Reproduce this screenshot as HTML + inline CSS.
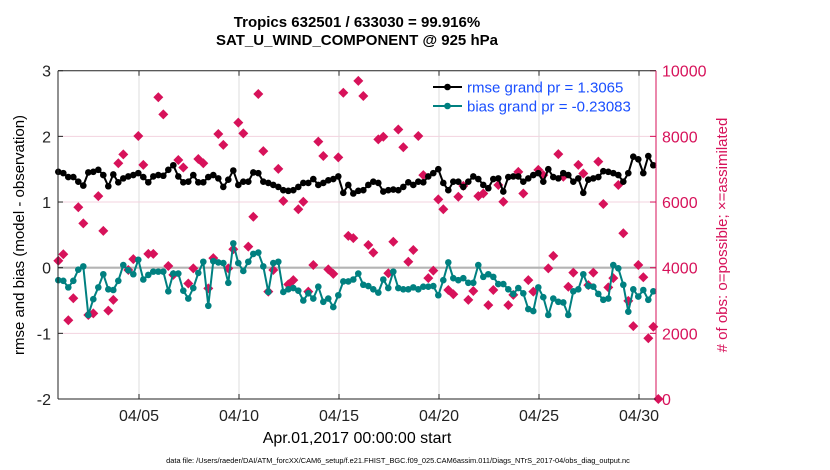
<!DOCTYPE html>
<html><head><meta charset="utf-8"><style>
html,body{margin:0;padding:0;background:#fff;}
svg{display:block;font-family:"Liberation Sans",Arial,sans-serif;}
</style></head><body>
<svg id="chart" width="830" height="470" viewBox="0 0 830 470">
<g id="grid"></g>
<g id="series"></g>
<g id="axes"></g>
<text x="357" y="27" text-anchor="middle" font-size="15" font-weight="bold">Tropics 632501 / 633030 = 99.916%</text>
<text x="357" y="45" text-anchor="middle" font-size="15" font-weight="bold">SAT_U_WIND_COMPONENT @ 925 hPa</text>
<text transform="translate(24,235) rotate(-90)" text-anchor="middle" font-size="15">rmse and bias (model - observation)</text>
<text transform="translate(727,235) rotate(-90)" text-anchor="middle" font-size="15" fill="#d7125a"># of obs: o=possible; ×=assimilated</text>
<text x="357" y="443" text-anchor="middle" font-size="16">Apr.01,2017 00:00:00 start</text>
<text x="398" y="463" text-anchor="middle" font-size="7.4">data file: /Users/raeder/DAI/ATM_forcXX/CAM6_setup/f.e21.FHIST_BGC.f09_025.CAM6assim.011/Diags_NTrS_2017-04/obs_diag_output.nc</text>
<g>
<g>
<line x1="433" y1="87" x2="462" y2="87" stroke="#000" stroke-width="2"/>
<circle cx="447.5" cy="87" r="3.3" fill="#000"/>
<text x="467" y="92.5" font-size="15" fill="#1a4fff">rmse grand pr = 1.3065</text>
</g>
<g>
<line x1="433" y1="106" x2="462" y2="106" stroke="#008080" stroke-width="2"/>
<circle cx="447.5" cy="106" r="3.3" fill="#008080"/>
<text x="467" y="111.5" font-size="15" fill="#1a4fff">bias grand pr = -0.23083</text>
</g>
</g>
</svg>
<script>
const xTickDays = [4, 9, 14, 19, 24, 29];
const xTickLabels = ["04/05", "04/10", "04/15", "04/20", "04/25", "04/30"];
const yTicks = [-2, -1, 0, 1, 2, 3];
const y2Ticks = [0, 2000, 4000, 6000, 8000, 10000];
const rmse = [1.46,1.44,1.38,1.38,1.31,1.25,1.45,1.46,1.49,1.41,1.24,1.42,1.30,1.36,1.39,1.41,1.44,1.38,1.30,1.39,1.41,1.40,1.49,1.56,1.39,1.30,1.31,1.41,1.30,1.30,1.38,1.41,1.36,1.23,1.34,1.48,1.26,1.31,1.31,1.45,
1.44,1.31,1.29,1.26,1.23,1.18,1.17,1.18,1.23,1.29,1.29,1.35,1.26,1.29,1.33,1.35,1.39,1.14,1.26,1.13,1.17,1.18,1.26,1.31,1.29,1.16,1.18,1.19,1.18,1.23,1.30,1.26,1.31,1.30,1.39,1.44,1.50,1.29,1.18,1.31,
1.31,1.23,1.31,1.39,1.35,1.26,1.21,1.35,1.36,1.16,1.38,1.39,1.39,1.31,1.36,1.41,1.44,1.31,1.50,1.38,1.36,1.44,1.41,1.31,1.36,1.14,1.34,1.36,1.38,1.47,1.46,1.44,1.41,1.31,1.44,1.69,1.65,1.44,1.70,1.56];
const bias = [-0.19,-0.20,-0.30,-0.20,-0.03,0.02,-0.72,-0.48,-0.30,-0.10,-0.33,-0.34,-0.20,0.04,-0.04,-0.10,0.12,-0.18,-0.11,-0.06,-0.06,-0.06,-0.36,-0.09,-0.09,-0.35,-0.47,-0.31,-0.08,0.09,-0.58,0.10,0.08,0.07,-0.23,0.37,0.07,-0.05,0.09,0.21,0.23,
0.02,-0.37,0.07,0.09,-0.37,-0.33,-0.31,-0.35,-0.50,-0.39,-0.47,-0.29,-0.52,-0.47,-0.60,-0.42,-0.21,-0.21,-0.18,-0.09,-0.26,-0.28,-0.33,-0.38,-0.18,-0.31,-0.06,-0.31,-0.33,-0.33,-0.30,-0.33,-0.29,-0.29,-0.28,-0.42,-0.19,0.08,-0.16,-0.19,
-0.16,-0.23,-0.23,0.04,-0.14,-0.10,-0.14,-0.25,-0.25,-0.33,-0.40,-0.31,-0.39,-0.63,-0.66,-0.30,-0.45,-0.72,-0.47,-0.52,-0.53,-0.72,-0.36,-0.33,-0.10,-0.28,-0.29,-0.40,-0.49,-0.47,0.04,-0.01,-0.26,-0.67,-0.33,-0.44,-0.34,-0.49,-0.36];
const obsCount = [4210,4410,2400,3070,5840,5350,2560,2610,6180,5120,2690,3020,7180,7450,3930,4260,8010,7130,4420,4420,9190,8670,4050,3780,7280,7050,3520,3980,7310,7180,3370,4290,8070,7740,3980,4560,8420,8090,4640,5550,9290,7550,3270,3930,7010,6030,3490,3620,5780,6010,3270,4080,7840,7400,3950,3810,7360,9330,4970,4900,9690,9230,4690,4460,7910,7990,3830,4790,8210,7670,4180,4540,8010,6820,3680,3910,6080,5780,3320,3190,6160,6490,3020,3290,6180,6260,2860,3320,6520,6010,2860,3170,6920,6260,3620,3270,6980,6820,3980,4360,7460,6770,3420,3850,7130,6870,3470,3850,7230,5940,3400,3680,6520,5050,2990,2220,4080,3710,1850,2200,0];

const L=58, R=656, T=70.7, B=399;
const NS="http://www.w3.org/2000/svg";
function xs(d){ return L + (d + 0.05) * 20 - 0.7; }
function ys(v){ return T + (3 - v) / 5 * (B - T); }
function y2s(n){ return B - n / 10000 * (B - T); }
function tDay(k){ return k * 0.25; }
function mk(tag, attrs, parent){ const e=document.createElementNS(NS,tag); for(const a in attrs) e.setAttribute(a, attrs[a]); parent.appendChild(e); return e; }

const grid=document.getElementById('grid'), axes=document.getElementById('axes'), ser=document.getElementById('series');
// vertical grid + x ticks
xTickDays.forEach((d,i)=>{
  const x=xs(d)+0.7;
  const g=mk('line',{x1:x,y1:T,x2:x,y2:B,stroke:'#dcdcdc','stroke-width':1},grid);
  
  
  mk('line',{x1:x,y1:B,x2:x,y2:B-5,stroke:'#222','stroke-width':1},axes);
  mk('line',{x1:x,y1:T,x2:x,y2:T+5,stroke:'#222','stroke-width':1},axes);
  const t=mk('text',{x:x,y:421,'text-anchor':'middle','font-size':16,fill:'#222'},axes);
  t.textContent=xTickLabels[i];
  
  
});
// horizontal grid + left ticks
yTicks.forEach(v=>{
  const y=ys(v);
  if(v>-2 && v<3){
    const g=mk('line',{x1:L,y1:y,x2:R,y2:y,stroke:'#f3d3df','stroke-width':1},grid);
    
    
  }
  mk('line',{x1:L,y1:y,x2:L+5,y2:y,stroke:'#222','stroke-width':1},axes);
  const t=mk('text',{x:L-7,y:y+6,'text-anchor':'end','font-size':16,fill:'#222'},axes);
  t.textContent=String(v);
  
  
});
y2Ticks.forEach(n=>{
  const y=y2s(n);
  mk('line',{x1:R,y1:y,x2:R-6,y2:y,stroke:'#d7125a','stroke-width':1},axes);
  const t=mk('text',{x:R+6,y:y+6,'font-size':16,fill:'#d7125a'},axes);
  t.textContent=String(n);
  
  
});
// zero line
const z=mk('line',{x1:L,y1:ys(0),x2:R,y2:ys(0),stroke:'#b4b4b4','stroke-width':2.2},grid);


// axes box
mk('line',{x1:L,y1:T,x2:R,y2:T,stroke:'#222','stroke-width':1},axes);
mk('line',{x1:L,y1:B,x2:R,y2:B,stroke:'#222','stroke-width':1},axes);
mk('line',{x1:L,y1:T,x2:L,y2:B,stroke:'#222','stroke-width':1},axes);
mk('line',{x1:R,y1:T,x2:R,y2:B,stroke:'#d7125a','stroke-width':1},axes);

// obs count markers
obsCount.forEach((n,k)=>{
  const x=xs(tDay(k)), y=y2s(n), r=5;
  const p=mk('polygon',{points:`${x},${y-r} ${x+r},${y} ${x},${y+r} ${x-r},${y}`,fill:'#d7125a'},ser);
  
  
});
function drawLine(arr,color,name){
  const pts=arr.map((v,k)=>xs(tDay(k)).toFixed(1)+','+ys(v).toFixed(1)).join(' ');
  const pl=mk('polyline',{points:pts,fill:'none',stroke:color,'stroke-width':2,'stroke-linejoin':'round'},ser);
  
  
  arr.forEach((v,k)=>{
    const c=mk('circle',{cx:xs(tDay(k)),cy:ys(v),r:3.3,fill:color},ser);
    
    
  });
}
drawLine(bias,'#008080','bias');
drawLine(rmse,'#000000','rmse');
</script>
</body></html>
